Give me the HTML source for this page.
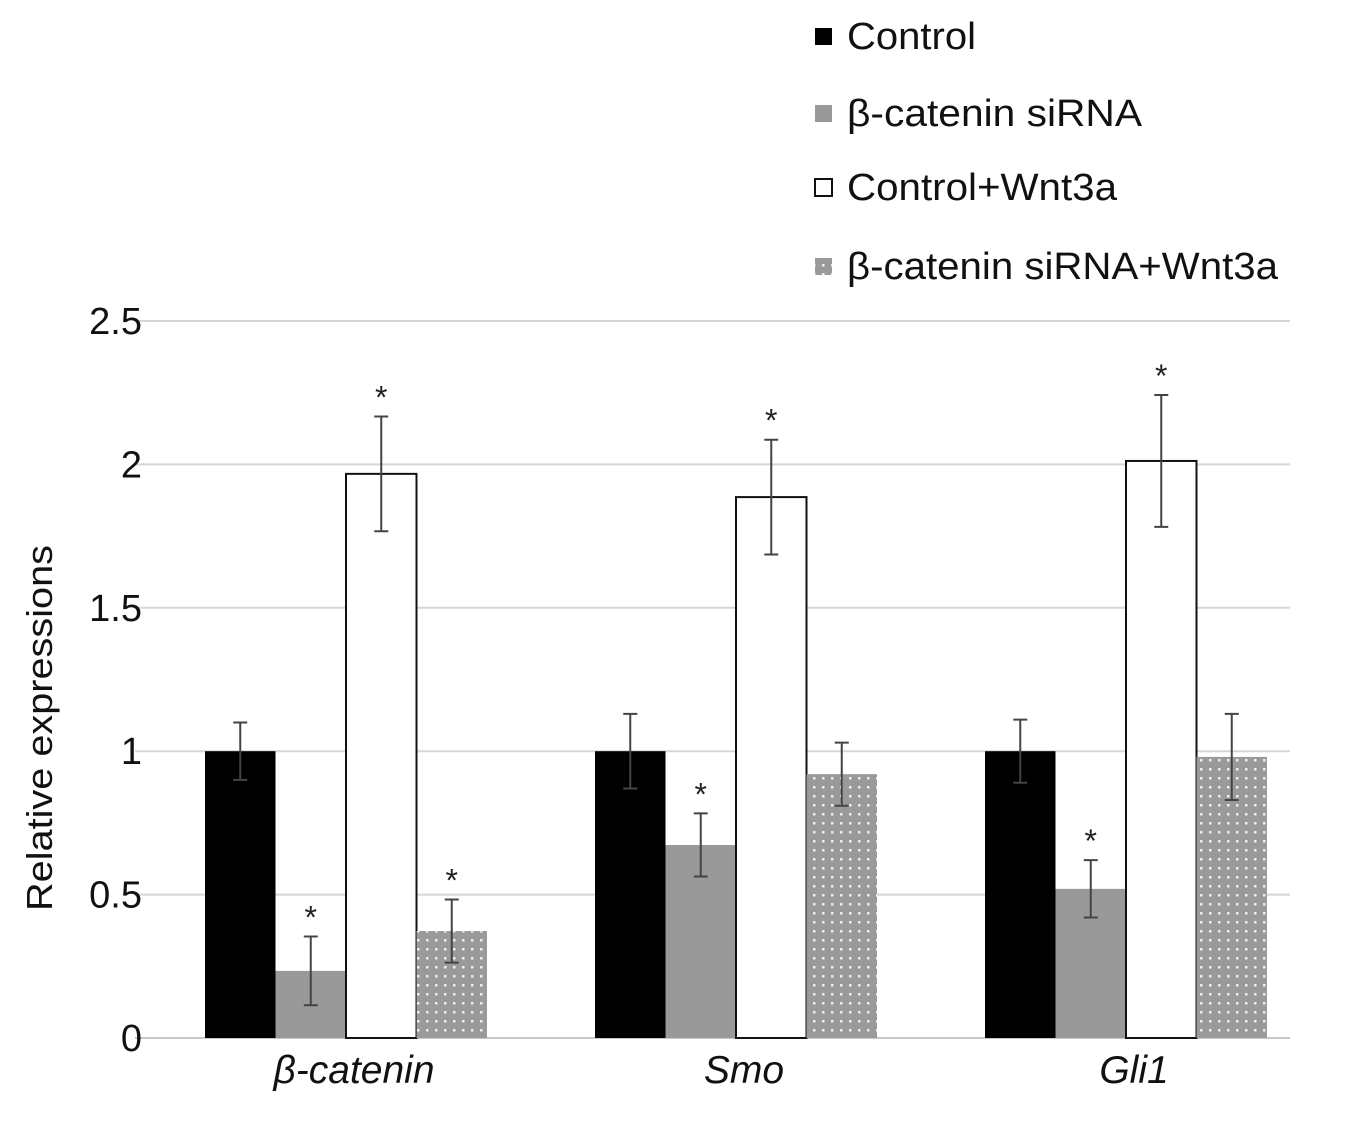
<!DOCTYPE html>
<html><head><meta charset="utf-8"><style>
body{margin:0;background:#fff}
svg{display:block;font-family:"Liberation Sans",Arial,sans-serif}
</style></head><body>
<svg id="chart" width="1368" height="1129" xmlns="http://www.w3.org/2000/svg">
<defs>
<pattern id="dots" width="9" height="9" patternUnits="userSpaceOnUse">
<rect width="9" height="9" fill="#9a9a9a"/><rect x="3" y="3" width="2.5" height="2.5" fill="#eee"/>
</pattern>
</defs>
<g id="grid"></g>
<g id="bars"></g>
<g id="legend"></g>
<text transform="translate(52,728) rotate(-90)" text-anchor="middle" font-size="36" textLength="366" lengthAdjust="spacingAndGlyphs" fill="#111">Relative expressions</text>
</svg>
<script>
const categories=["β-catenin","Smo","Gli1"];
const seriesNames=["Control","β-catenin siRNA","Control+Wnt3a","β-catenin siRNA+Wnt3a"];
const control=[1,1,1];
const siRNA=[0.234,0.673,0.52];
const wnt=[1.967,1.886,2.012];
const siWnt=[0.373,0.92,0.98];
const errControl=[0.1,0.13,0.11];
const errSi=[0.12,0.11,0.1];
const errWnt=[0.2,0.2,0.23];
const errSiWnt=[0.11,0.11,0.15];
const sigControl=[false,false,false];
const sigSi=[true,true,true];
const sigWnt=[true,true,true];
const sigSiWnt=[true,false,false];
const yTicks=[0,0.5,1,1.5,2,2.5];
const yTickLabels=["0","0.5","1","1.5","2","2.5"];

const NS="http://www.w3.org/2000/svg";
const y0=1038,yTop=321,yMax=2.5;
const y=v=>y0-(v/yMax)*(y0-yTop);
const gx=i=>205+i*390;const bw=70.5;
function mk(t,a,p){const e=document.createElementNS(NS,t);for(const k in a)e.setAttribute(k,a[k]);p.appendChild(e);return e;}
const grid=document.getElementById('grid');
yTicks.forEach((t,i)=>{
 const l=mk('line',{x1:135,x2:1290,y1:y(t),y2:y(t),stroke:i==0?'#c8c8c8':'#d6d6d6','stroke-width':2},grid);
 
 
 const tx=mk('text',{x:142,y:y(t)+13,'text-anchor':'end','font-size':38,fill:'#111'},grid);
 tx.textContent=yTickLabels[i];
 
 
});
const series=[control,siRNA,wnt,siWnt],errs=[errControl,errSi,errWnt,errSiWnt],sigs=[sigControl,sigSi,sigWnt,sigSiWnt];
const fills=['#000','#999','#fff','url(#dots)'];
const bars=document.getElementById('bars');
categories.forEach((c,i)=>{
 series.forEach((s,j)=>{
  const x=gx(i)+j*bw,v=s[i];
  const r=mk('rect',{x:x,y:y(v),width:bw,height:y0-y(v),fill:fills[j],stroke:j==2?'#111':'none','stroke-width':2},bars);
  
  
  const cx=x+bw/2,hi=y(v+errs[j][i]),lo=y(v-errs[j][i]);
  const e=mk('path',{d:`M${cx},${hi}V${lo}M${cx-7},${hi}H${cx+7}M${cx-7},${lo}H${cx+7}`,stroke:'#444','stroke-width':2,fill:'none'},bars);
  
  
  if(sigs[j][i]){const a=mk('text',{x:cx,y:hi-8,'text-anchor':'middle','font-size':32,fill:'#222'},bars);a.textContent='*';
   
   }
 });
 const t=mk('text',{x:gx(i)+2*bw+8,y:1083,'text-anchor':'middle','font-size':39,'font-style':'italic',fill:'#111'},bars);
 t.textContent=c;
 
 
});
const lg=document.getElementById('legend');
const ly=[36,113,187,266];
const lw=[129,295,270,431];
seriesNames.forEach((n,j)=>{
 const r=mk('rect',{x:815,y:ly[j]-8,width:17,height:17,fill:fills[j],stroke:j==2?'#111':'none','stroke-width':2},lg);
 
 
 const t=mk('text',{x:847,y:ly[j]+13,'font-size':38,fill:'#111',textLength:lw[j],lengthAdjust:'spacingAndGlyphs'},lg);t.textContent=n;
 
 
});
</script>
</body></html>
